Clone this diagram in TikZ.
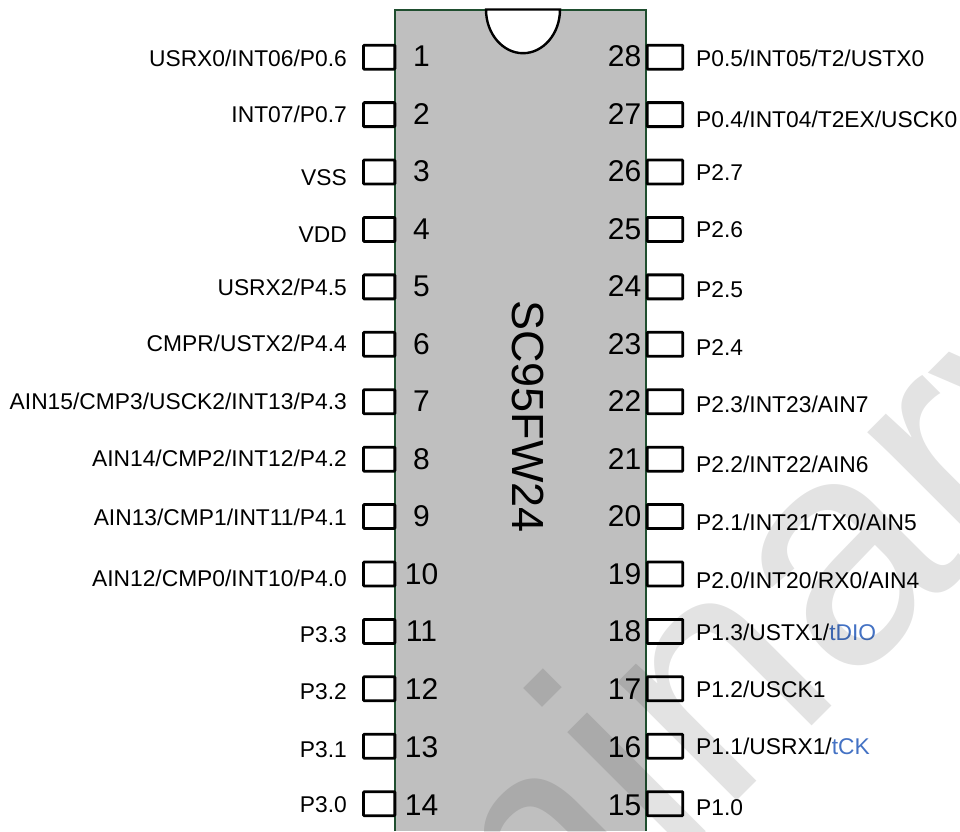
\documentclass[tikz,border=0pt]{standalone}
\usepackage{fontspec}
\setmainfont{Liberation Sans}
\definecolor{chipgray}{HTML}{BFBFBF}
\definecolor{chipedge}{HTML}{1F4E2F}
\definecolor{linkblue}{HTML}{4472C4}
\tikzset{
  pinbox/.style={draw=black,fill=white,line width=2.8pt,rounded corners=0.8pt,minimum height=24pt,inner sep=0pt,outer sep=0pt},
  pinnum/.style={inner sep=0pt,font=\fontsize{30}{34}\selectfont},
  lefttext/.style={anchor=base east,inner sep=0pt,font=\fontsize{22.8}{26}\selectfont},
  righttext/.style={anchor=base west,inner sep=0pt,font=\fontsize{22.8}{26}\selectfont},
  partname/.style={rotate=-90,anchor=base west,inner sep=0pt,font=\fontsize{45}{50}\selectfont},
  wmark/.style={rotate=45,anchor=base west,inner sep=0pt,text=black,text opacity=0.11,font=\fontsize{318}{326}\selectfont}
}
\begin{document}
\begin{tikzpicture}[x=1pt,y=-1pt]
\useasboundingbox (0,0) rectangle (960,831);
% chip body
\fill[chipgray] (394.5,9.5) rectangle (646,831);
\draw[chipedge,line width=2pt] (394.5,831) -- (394.5,9.5) -- (646,9.5) -- (646,831);
% notch
\draw[black,fill=white,line width=2.4pt] (486,9.5) .. controls (486,34) and (503,53.2) .. (523,53.2) .. controls (543,53.2) and (560,34) .. (560,9.5) -- cycle;
\node[partname] (part) at (512,300) {SC95FW24};
% left pins
\foreach \n/\yy/\by/\txt in {
 1/66.7/66.7/USRX0\slash INT06\slash P0.6,
 2/124.5/122/INT07\slash P0.7,
 3/181.7/185/VSS,
 4/239.3/242.7/VDD,
 5/296.8/295/USRX2\slash P4.5,
 6/354.2/351/CMPR\slash USTX2\slash P4.4,
 7/411.7/409/AIN15\slash CMP3\slash USCK2\slash INT13\slash P4.3,
 8/469.2/466/AIN14\slash CMP2\slash INT12\slash P4.2,
 9/526.7/525/AIN13\slash CMP1\slash INT11\slash P4.1,
 10/584.6/586/AIN12\slash CMP0\slash INT10\slash P4.0,
 11/641.7/642/P3.3,
 12/699.3/699/P3.2,
 13/757.3/757/P3.1,
 14/815/812/P3.0}{
  \node[pinbox,minimum width=31.3pt] (L\n) at (379.2,{57.2+57.42*(\n-1)}) {};
  \node[pinnum,anchor=base] (LN\n) at (421.5,\yy) {\n};
  \node[lefttext] (LT\n) at (347,\by) {\txt};
}
% right pins
\foreach \n/\yy/\by/\txt in {
 28/66.7/66/P0.5\slash INT05\slash T2\slash USTX0,
 27/124.5/127/P0.4\slash INT04\slash T2EX\slash USCK0,
 26/181.7/180/P2.7,
 25/239.3/237/P2.6,
 24/296.8/297/P2.5,
 23/354.2/355/P2.4,
 22/411.7/412.5/P2.3\slash INT23\slash AIN7,
 21/469.2/472/P2.2\slash INT22\slash AIN6,
 20/526.7/530/P2.1\slash INT21\slash TX0\slash AIN5,
 19/584.6/588/P2.0\slash INT20\slash RX0\slash AIN4,
 18/641.7/640/P1.3\slash USTX1\slash \textcolor{linkblue}{tDIO},
 17/699.3/697/P1.2\slash USCK1,
 16/757.3/754.5/P1.1\slash USRX1\slash \textcolor{linkblue}{tCK},
 15/815/815/P1.0}{
  \node[pinbox,minimum width=35.6pt] (R\n) at (665,{57.2+57.42*(28-\n)}) {};
  \node[pinnum,anchor=base east] (RN\n) at (641.5,\yy) {\n};
  \node[righttext] (RT\n) at (696,\by) {\txt};
}
% watermark
\begin{scope}
\clip (0,0) rectangle (960,831);
\node[wmark] (wm) at (34.4,1504) {Preliminary};
\end{scope}
\end{tikzpicture}
\end{document}
